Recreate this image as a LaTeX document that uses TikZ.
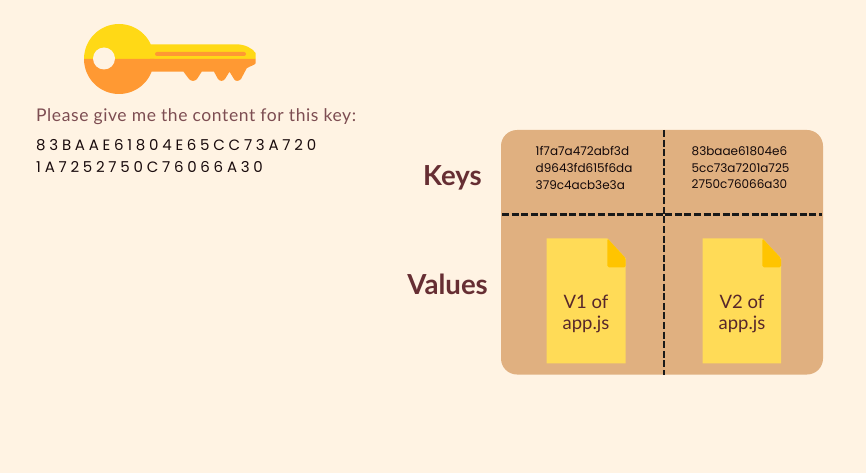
\documentclass[tikz,border=0pt]{standalone}
\usepackage{fontspec}
\usepackage{xcolor}
\setmainfont{Poppins}
\newfontfamily\askfont[LetterSpace=3.4]{Lato}
\newfontfamily\codefont[LetterSpace=25]{Poppins}
\newfontfamily\headfont[BoldFont=Lato Bold]{Lato}
\newfontfamily\docfont{Lato}
\definecolor{cream}{HTML}{FFF3E3}
\definecolor{panel}{HTML}{E0B080}
\definecolor{keyyellow}{HTML}{FFD916}
\definecolor{keyorange}{HTML}{FF9933}
\definecolor{docyellow}{HTML}{FFDB57}
\definecolor{docfold}{HTML}{FFC400}
\definecolor{wine}{HTML}{662E33}
\usetikzlibrary{positioning}
\tikzset{
  hexlabel/.style={align=left,anchor=north west,inner sep=0pt,font=\fontsize{12}{16.7}\selectfont,text=black!80!wine},
  doclabel/.style={align=center,inner sep=0pt,font=\docfont\fontsize{18.5}{21.5}\selectfont,text=wine!85!black},
  headlabel/.style={inner sep=0pt,anchor=east,font=\headfont\bfseries\fontsize{27.6}{30}\selectfont,text=wine},
  divider/.style={black!90,line width=2.6pt,dash pattern=on 7pt off 2.6pt}
}
\begin{document}
\begin{tikzpicture}[x=1pt,y=-1pt]
\useasboundingbox (0,0) rectangle (866,473);
\fill [cream] (0,0) rectangle (866,473);
% key
\fill [keyyellow] (84,59) arc (180:360:35) -- cycle;
\fill [keyyellow] (150,59) -- (150.8,44.3) -- (236.7,44.3) .. controls (245,44.5) and (252,48) .. (255.7,53) -- (255.7,59) -- cycle;
\fill [keyorange] (84,59) arc (180:0:35) -- cycle;
\fill [keyorange] (150,59) -- (255.7,59) -- (255.7,63.3) .. controls (255,65) and (250,66) .. (246.7,68.3) -- (241,79) .. controls (239,81.5) and (235,81.5) .. (234,79) -- (229.5,71.7) -- (225,79) .. controls (223,81.5) and (220,81.5) .. (218,79) -- (214,71.7) -- (201.7,71.7) -- (197,79) .. controls (195,81.5) and (191,81.5) .. (189,79) -- (183.5,71.7) -- (151.6,71.7) -- cycle;
\fill [cream] (104,58.5) circle (11);
\fill [keyorange, rounded corners=2pt] (155,52) rectangle (246,56);
% question
\node [inner sep=0pt,anchor=west,text=wine!85,font=\askfont\fontsize{17.5}{20}\selectfont] (ask) at (36,117) {Please give me the content for this key:};
\node [align=left,inner sep=0pt,anchor=north west,text=black!75!wine,font=\codefont\fontsize{15}{22}\selectfont] (wanted) at (36,139) {83BAAE61804E65CC73A720\\1A7252750C76066A30};
% table
\fill [panel, rounded corners=16pt] (501,130) rectangle (823,374.5);
\coordinate (top) at (664,130);
\coordinate (bottom) at (664,374.5);
\coordinate (left) at (502,214.5);
\coordinate (right) at (822,214.5);
\draw [divider] (top) -- (bottom);
\draw [divider] (left) -- (right);
\node [hexlabel] (hash1) at (535.5,146.3) {1f7a7a472abf3d\\d9643fd615f6da\\379c4acb3e3a};
\node [hexlabel] (hash2) at (691.5,146.3) {83baae61804e6\\5cc73a7201a725\\2750c76066a30};
\node [headlabel] (keys) at (482,177.5) {Keys};
\node [headlabel] (values) at (488,284.5) {Values};
% files
\fill [docyellow] (546.7,238.3) -- (607.3,238.3) -- (625.7,258.3) -- (625.7,363.3) -- (546.7,363.3) -- cycle;
\fill [docfold, rounded corners=1.5pt] (607.3,238.3) -- (625.7,258.3) -- (625.7,267.3) -- (607.3,267.3) -- cycle;
\fill [docyellow] (702.7,238.3) -- (762.3,238.3) -- (781,258.3) -- (781,363.3) -- (702.7,363.3) -- cycle;
\fill [docfold, rounded corners=1.5pt] (762.3,238.3) -- (781,258.3) -- (781,267.3) -- (762.3,267.3) -- cycle;
\node [doclabel] (file1) at (586,314) {V1 of\\app.js};
\node [doclabel] (file2) at (742,314) {V2 of\\app.js};
\end{tikzpicture}
\end{document}
